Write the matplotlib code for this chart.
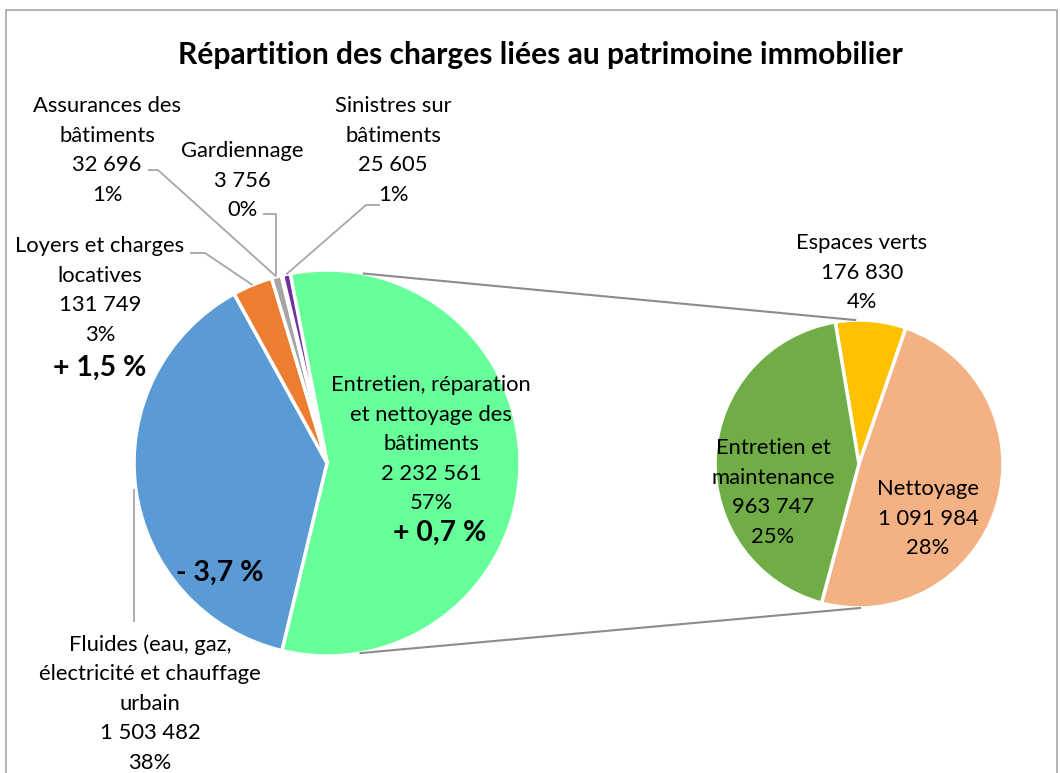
import matplotlib.pyplot as plt
import numpy as np
from matplotlib.patches import Rectangle

# main pie
main_labels = ["Entretien, réparation\net nettoyage des\nbâtiments",
               "Fluides (eau, gaz,\nélectricité et chauffage\nurbain",
               "Loyers et charges\nlocatives",
               "Assurances des\nbâtiments",
               "Gardiennage",
               "Sinistres sur\nbâtiments"]
main_values = [2232561, 1503482, 131749, 32696, 3756, 25605]
main_colors = ["#66FF99", "#5B9BD5", "#ED7D31", "#A5A5A5", "#FFC000", "#7030A0"]

# secondary pie (split of the first main slice)
sub_labels = ["Espaces verts", "Nettoyage", "Entretien et\nmaintenance"]
sub_values = [176830, 1091984, 963747]
sub_colors = ["#FFC000", "#F4B183", "#70AD47"]

# evolution annotations
evolutions = ["+ 0,7 %", "- 3,7 %", "+ 1,5 %"]

FONT = "Lato"
H = 773


def fmt(v):
    return f"{v:,}".replace(",", " ")


def py(y):
    # image pixel row -> data y
    return H - y


fig = plt.figure(figsize=(10.6, 7.73), dpi=100)
ax = fig.add_axes([0, 0, 1, 1])

ax.add_patch(Rectangle((6, -20), 1051, H - 10 + 20, fill=False, ec="#A6A6A6", lw=1.2))

c1 = (327, py(463))
r1 = 193
c2 = (859, py(464))
r2 = 144

total = sum(main_values)
wedges1, _ = ax.pie(main_values, colors=main_colors, startangle=101, counterclock=False,
                    center=c1, radius=r1, explode=[0.02, 0, 0, 0, 0, 0],
                    wedgeprops=dict(edgecolor="white", linewidth=2.5), frame=True)
wedges2, _ = ax.pie(sub_values, colors=sub_colors, startangle=99.5, counterclock=False,
                    center=c2, radius=r2,
                    wedgeprops=dict(edgecolor="white", linewidth=2.5), frame=True)
ax.set_xlim(0, 1060)
ax.set_ylim(0, H)
ax.set_aspect("equal")
ax.axis("off")

txt = dict(fontsize=15.8, family=FONT, ha="center", va="top", linespacing=1.6, color="black")

# label positions (centre x, top y in image pixels)
main_pos = [(431, 375), (150, 634), (100, 236), (107, 96), (242, 141), (393, 96)]
for lab, v, (x, y) in zip(main_labels, main_values, main_pos):
    ax.text(x, py(y), f"{lab}\n{fmt(v)}\n{v / total:.0%}", **txt)

sub_pos = [(862, 233), (928, 479), (773, 438)]
for lab, v, (x, y) in zip(sub_labels, sub_values, sub_pos):
    ax.text(x, py(y), f"{lab}\n{fmt(v)}\n{v / total:.0%}", **txt)

evo_pos = [(440, 533), (220, 573), (100, 368)]
for s, (x, y) in zip(evolutions, evo_pos):
    ax.text(x, py(y), s, fontsize=20.4, fontweight="bold", family=FONT, ha="center", va="center")

ax.text(540, py(55), "Répartition des charges liées au patrimoine immobilier",
        fontsize=21.6, fontweight="bold", family=FONT, ha="center", va="center")


def edge_pt(w):
    a = np.deg2rad((w.theta1 + w.theta2) / 2)
    cx, cy = w.center
    return cx + w.r * np.cos(a), cy + w.r * np.sin(a)


lc = "#A6A6A6"
# leader lines: label-side points (image pixels) then wedge
leaders = {1: [(134, 622)], 2: [(190, 253), (205, 253)], 3: [(148, 170), (158, 170)],
           4: [(263, 214), (276, 214)], 5: [(380, 205), (366, 205)]}
for i, pts in leaders.items():
    xs = [p[0] for p in pts]
    ys = [py(p[1]) for p in pts]
    ex, ey = edge_pt(wedges1[i])
    if i == 1:
        ex = xs[0]
    if i == 4:
        ex = xs[-1]
    ax.plot(xs + [ex], ys + [ey], color=lc, lw=1.3, solid_capstyle="butt")

# connector lines between the pies
g = wedges1[0]
gx, gy = g.center
for a1, a2 in [(79, 91.5), (-80, -89.6)]:
    p1 = (gx + r1 * np.cos(np.deg2rad(a1)), gy + r1 * np.sin(np.deg2rad(a1)))
    p2 = (c2[0] + r2 * np.cos(np.deg2rad(a2)), c2[1] + r2 * np.sin(np.deg2rad(a2)))
    ax.plot([p1[0], p2[0]], [p1[1], p2[1]], color="#8C8C8C", lw=1.5)

fig.savefig("out.png", dpi=100)
